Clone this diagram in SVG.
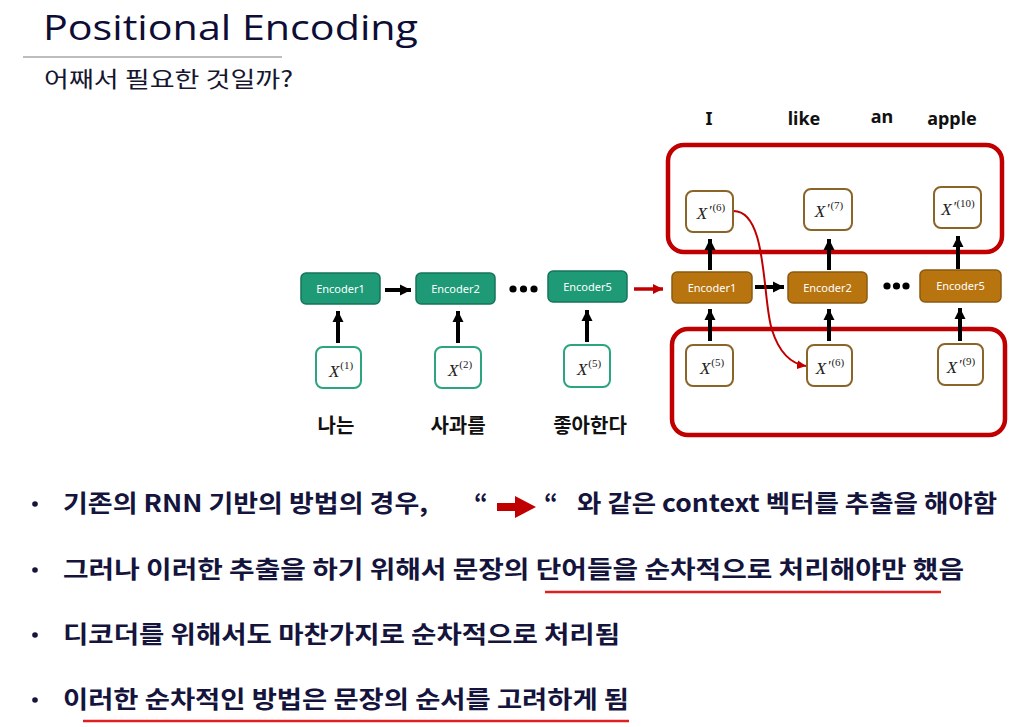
<svg xmlns="http://www.w3.org/2000/svg" width="1032" height="727" viewBox="0 0 1032 727">
<defs>
<style>
.title{font-family:"Open Sans","Noto Sans",sans-serif;font-weight:400;font-size:35px;fill:#0d0d35;}
.sub{font-family:"Noto Sans CJK KR",sans-serif;font-size:22px;fill:#161630;}
.bul{font-family:"Noto Sans CJK KR",sans-serif;font-weight:700;font-size:24px;fill:#14143c;}
.lab{font-family:"Noto Sans CJK KR",sans-serif;font-weight:700;font-size:20px;fill:#111;text-anchor:middle;}
.en{font-family:"Noto Sans","Liberation Sans",sans-serif;font-weight:700;font-size:18px;fill:#111;text-anchor:middle;}
.enc{stroke-width:1.5;}
.g{fill:#1e9a76;stroke:#16745a;}
.o{fill:#b8740f;stroke:#8c5a12;}
.etxt{font-family:"Noto Sans","Liberation Sans",sans-serif;font-size:11px;fill:#fff;text-anchor:middle;}
.in{fill:#fff;stroke-width:2;}
.ig{stroke:#2aa57f;}
.io{stroke:#8b6428;}
.mx{font-family:"Liberation Serif",serif;font-size:17px;fill:#222;text-anchor:middle;}
.it{font-style:italic;}
.pr{font-size:15px;font-style:italic;}
.sup{font-size:11px;font-style:normal;}
.redbox{fill:none;stroke:#c00000;stroke-width:4.5;}
.blk{stroke:#000;stroke-width:4;fill:none;}
.ul{stroke:#e02020;stroke-width:2.5;}
</style>
<marker id="ah" markerUnits="userSpaceOnUse" viewBox="0 0 10 10" refX="10" refY="5" markerWidth="11" markerHeight="12" orient="auto">
<path d="M0,0 L10,5 L0,10 Z" fill="#000"/>
</marker>
<marker id="rh" markerUnits="userSpaceOnUse" viewBox="0 0 10 10" refX="10" refY="5" markerWidth="10" markerHeight="10" orient="auto">
<path d="M0,0 L10,5 L0,10 Z" fill="#c00000"/>
</marker>
<marker id="rs" markerUnits="userSpaceOnUse" viewBox="0 0 10 10" refX="10" refY="5" markerWidth="9" markerHeight="9" orient="auto">
<path d="M0,0 L10,5 L0,10 Z" fill="#c00000"/>
</marker>
</defs>
<rect width="1032" height="727" fill="#fff"/>

<g id="title">
<text class="title" x="43" y="40" textLength="375" lengthAdjust="spacingAndGlyphs">Positional Encoding</text>
<line x1="23" y1="57" x2="282" y2="57" stroke="#bdbdbd" stroke-width="2"/>
<text class="sub" x="44" y="87" textLength="249" lengthAdjust="spacingAndGlyphs">어째서 필요한 것일까?</text>
</g>

<g id="red-boxes">
<rect class="redbox" x="668" y="145" width="334" height="107" rx="16"/>
<rect class="redbox" x="672" y="329" width="333" height="106" rx="16"/>
</g>

<g id="connectors">
<line class="blk" x1="338" y1="343" x2="338" y2="311" marker-end="url(#ah)"/>
<line class="blk" x1="458" y1="343" x2="458" y2="311" marker-end="url(#ah)"/>
<line class="blk" x1="587" y1="342" x2="587" y2="310" marker-end="url(#ah)"/>
<line class="blk" x1="385" y1="290" x2="411" y2="290" marker-end="url(#ah)"/>
<line x1="634" y1="289" x2="663" y2="289" stroke="#c00000" stroke-width="3.5" marker-end="url(#rh)"/>
<line class="blk" x1="755" y1="287" x2="784" y2="287" marker-end="url(#ah)"/>
<line class="blk" x1="710" y1="341" x2="710" y2="309" marker-end="url(#ah)"/>
<line class="blk" x1="829" y1="341" x2="829" y2="309" marker-end="url(#ah)"/>
<line class="blk" x1="960" y1="341" x2="960" y2="308" marker-end="url(#ah)"/>
<line class="blk" x1="710" y1="270" x2="710" y2="239" marker-end="url(#ah)"/>
<line class="blk" x1="829" y1="270" x2="829" y2="239" marker-end="url(#ah)"/>
<line class="blk" x1="958" y1="269" x2="958" y2="236" marker-end="url(#ah)"/>
<path d="M733,211 C768,210 762,300 772,330 C780,355 792,364 806,366" fill="none" stroke="#c00000" stroke-width="2" marker-end="url(#rs)"/>
<g fill="#000">
<circle cx="513" cy="289" r="3.6"/><circle cx="523.5" cy="289" r="3.6"/><circle cx="534" cy="289" r="3.6"/>
<circle cx="887" cy="286" r="3.6"/><circle cx="896.5" cy="286" r="3.6"/><circle cx="906" cy="286" r="3.6"/>
</g>
</g>

<g id="enc-g1"><rect class="enc g" x="301" y="273" width="79" height="31" rx="5"/><text class="etxt" x="340.5" y="292.5">Encoder1</text></g>
<g id="enc-g2"><rect class="enc g" x="416" y="273" width="79" height="31" rx="5"/><text class="etxt" x="455.5" y="292.5">Encoder2</text></g>
<g id="enc-g5"><rect class="enc g" x="548" y="271" width="79" height="31" rx="5"/><text class="etxt" x="587.5" y="290.5">Encoder5</text></g>

<g id="enc-o1"><rect class="enc o" x="672" y="272" width="80" height="31" rx="5"/><text class="etxt" x="712" y="291.5">Encoder1</text></g>
<g id="enc-o2"><rect class="enc o" x="788" y="272" width="79" height="31" rx="5"/><text class="etxt" x="827.5" y="291.5">Encoder2</text></g>
<g id="enc-o5"><rect class="enc o" x="920" y="270" width="81" height="32" rx="5"/><text class="etxt" x="960.5" y="290">Encoder5</text></g>

<g id="x1"><rect class="in ig" x="316" y="347" width="45" height="41" rx="7"/><text class="mx" x="341" y="377"><tspan class="it">X</tspan><tspan class="sup" dx="1" dy="-8">(1)</tspan></text></g>
<g id="x2"><rect class="in ig" x="435" y="347" width="46" height="41" rx="7"/><text class="mx" x="460" y="376"><tspan class="it">X</tspan><tspan class="sup" dx="1" dy="-8">(2)</tspan></text></g>
<g id="x5g"><rect class="in ig" x="564" y="345" width="46" height="42" rx="7"/><text class="mx" x="589" y="375"><tspan class="it">X</tspan><tspan class="sup" dx="1" dy="-8">(5)</tspan></text></g>

<g id="x5o"><rect class="in io" x="686" y="345" width="47" height="41" rx="7"/><text class="mx" x="712" y="374"><tspan class="it">X</tspan><tspan class="sup" dx="1" dy="-8">(5)</tspan></text></g>
<g id="xp6b"><rect class="in io" x="807" y="345" width="45" height="41" rx="7"/><text class="mx" x="830" y="374"><tspan class="it">X</tspan><tspan class="pr" dx="1" dy="-3">′</tspan><tspan class="sup" dx="1" dy="-5">(6)</tspan></text></g>
<g id="xp9"><rect class="in io" x="938" y="344" width="45" height="41" rx="7"/><text class="mx" x="961" y="373"><tspan class="it">X</tspan><tspan class="pr" dx="1" dy="-3">′</tspan><tspan class="sup" dx="1" dy="-5">(9)</tspan></text></g>

<g id="xp6t"><rect class="in io" x="686" y="191" width="47" height="41" rx="7"/><text class="mx" x="711" y="219"><tspan class="it">X</tspan><tspan class="pr" dx="1" dy="-3">′</tspan><tspan class="sup" dx="1" dy="-5">(6)</tspan></text></g>
<g id="xp7"><rect class="in io" x="804" y="189" width="48" height="41" rx="7"/><text class="mx" x="829" y="217"><tspan class="it">X</tspan><tspan class="pr" dx="1" dy="-3">′</tspan><tspan class="sup" dx="1" dy="-5">(7)</tspan></text></g>
<g id="xp10"><rect class="in io" x="934" y="187" width="47" height="41" rx="7"/><text class="mx" x="958" y="215" font-size="15"><tspan class="it">X</tspan><tspan class="pr" dx="1" dy="-3">′</tspan><tspan class="sup" dx="0.5" dy="-5">(10)</tspan></text></g>

<g id="labels-kr">
<text class="lab" x="336" y="433">나는</text>
<text class="lab" x="458" y="433">사과를</text>
<text class="lab" x="590" y="433">좋아한다</text>
</g>
<g id="labels-en">
<text class="en" x="709" y="125">I</text>
<text class="en" x="804" y="125">like</text>
<text class="en" x="882" y="123">an</text>
<text class="en" x="952" y="125">apple</text>
</g>

<g id="bullets">
<g fill="#14143c"><circle cx="35" cy="504" r="2.8"/><circle cx="35" cy="570" r="2.8"/><circle cx="35" cy="635" r="2.8"/><circle cx="35" cy="700" r="2.8"/></g>
<text class="bul" x="63" y="512" textLength="365" lengthAdjust="spacingAndGlyphs">기존의 RNN 기반의 방법의 경우,</text>
<text class="bul" x="474" y="512">“</text>
<polygon points="497,503 515,503 515,496 536,507 515,518 515,511 497,511" fill="#c00000"/>
<text class="bul" x="544" y="512">“</text>
<text class="bul" x="577" y="512" textLength="420" lengthAdjust="spacingAndGlyphs">와 같은 context 벡터를 추출을 해야함</text>
<text class="bul" x="63" y="578" textLength="901" lengthAdjust="spacingAndGlyphs">그러나 이러한 추출을 하기 위해서 문장의 단어들을 순차적으로 처리해야만 했음</text>
<line class="ul" x1="545" y1="592" x2="941" y2="592"/>
<text class="bul" x="63" y="643" textLength="557" lengthAdjust="spacingAndGlyphs">디코더를 위해서도 마찬가지로 순차적으로 처리됨</text>
<text class="bul" x="63" y="708" textLength="566" lengthAdjust="spacingAndGlyphs">이러한 순차적인 방법은 문장의 순서를 고려하게 됨</text>
<line class="ul" x1="83" y1="721" x2="629" y2="721"/>
</g>
</svg>
